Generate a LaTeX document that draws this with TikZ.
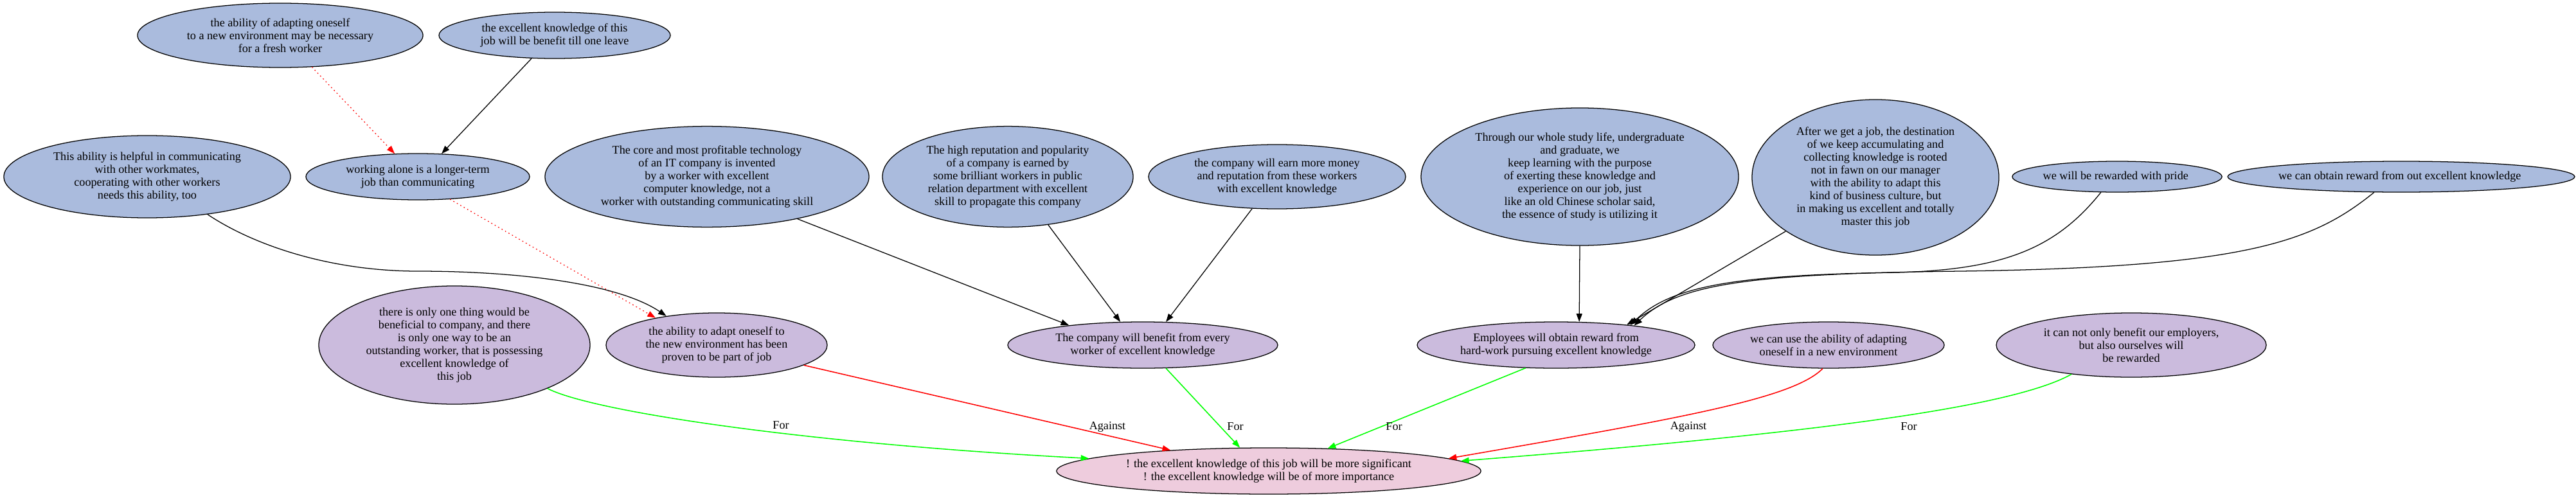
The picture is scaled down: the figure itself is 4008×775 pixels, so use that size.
\documentclass[tikz,border=0pt]{standalone}
\usepackage{fontspec}
\setmainfont{Liberation Serif}
\usepackage{xcolor}
\usepackage{tikz}
\usetikzlibrary{shapes.geometric,arrows.meta}
\definecolor{argblue}{HTML}{AABBDD}
\definecolor{argpurple}{HTML}{CBBBDD}
\definecolor{argpink}{HTML}{EECCDD}
\definecolor{argfor}{HTML}{00FF00}
\definecolor{argagainst}{HTML}{FF0000}

\begin{document}
\begin{tikzpicture}[
    x=0.025cm, y=-0.025cm,
    claim/.style={
        ellipse,
        draw=black,
        line width=0.9pt,
        inner sep=0pt,
        align=center,
        font=\fontsize{12.9}{14.2}\selectfont
    },
    premise/.style={claim, fill=argblue},
    reason/.style={claim, fill=argpurple},
    thesis/.style={claim, fill=argpink},
    support/.style={
        draw=black,
        line width=0.9pt,
        -{Triangle[length=9pt,width=6.5pt]}
    },
    undercut/.style={
        draw=argagainst,
        line width=0.9pt,
        dash pattern=on 1.2pt off 3.2pt,
        -{Triangle[length=9pt,width=6.5pt]}
    },
    pro/.style={
        draw=argfor,
        line width=1.1pt,
        -{Triangle[length=9pt,width=6.5pt]}
    },
    con/.style={
        draw=argagainst,
        line width=1.1pt,
        -{Triangle[length=9pt,width=6.5pt]}
    },
    edgelabel/.style={
        font=\fontsize{12.9}{14.2}\selectfont,
        inner sep=1pt
    }
]

\useasboundingbox (0,0) rectangle (4008,775);

% ============================================================
% Top row: premises
% ============================================================

\node[premise, minimum width=11.1cm, minimum height=2.5cm] (fresh) at (436,55) {
    the ability of adapting oneself\\
    to a new environment may be necessary\\
    for a fresh worker
};

\node[premise, minimum width=9cm, minimum height=1.8cm] (leave) at (863,55) {
    the excellent knowledge of this\\
    job will be benefit till one leave
};

\node[premise, minimum width=11.15cm, minimum height=3.2cm] (helpful) at (229,275) {
    This ability is helpful in communicating\\
    with other workmates,\\
    cooperating with other workers\\
    needs this ability, too
};

\node[premise, minimum width=8.7cm, minimum height=1.8cm] (alone) at (650,275) {
    working alone is a longer-term\\
    job than communicating
};

\node[premise, minimum width=12.6cm, minimum height=3.92cm] (core) at (1100,275) {
    The core and most profitable technology\\
    of an IT company is invented\\
    by a worker with excellent\\
    computer knowledge, not a\\
    worker with outstanding communicating skill
};

\node[premise, minimum width=9.75cm, minimum height=3.92cm] (reputation) at (1568,275) {
    The high reputation and popularity\\
    of a company is earned by\\
    some brilliant workers in public\\
    relation department with excellent\\
    skill to propagate this company
};

\node[premise, minimum width=10cm, minimum height=2.5cm] (money) at (1987,275) {
    the company will earn more money\\
    and reputation from these workers\\
    with excellent knowledge
};

\node[premise, minimum width=12.35cm, minimum height=5.35cm] (study) at (2458,275) {
    Through our whole study life, undergraduate\\
    and graduate, we\\
    keep learning with the purpose\\
    of exerting these knowledge and\\
    experience on our job, just\\
    like an old Chinese scholar said,\\
    the essence of study is utilizing it
};

\node[premise, minimum width=9.6cm, minimum height=6.05cm] (afterjob) at (2918,276) {
    After we get a job, the destination\\
    of we keep accumulating and\\
    collecting knowledge is rooted\\
    not in fawn on our manager\\
    with the ability to adapt this\\
    kind of business culture, but\\
    in making us excellent and totally\\
    master this job
};

\node[premise, minimum width=8.1cm, minimum height=1.2cm] (pride) at (3294,275) {
    we will be rewarded with pride
};

\node[premise, minimum width=13.1cm, minimum height=1.2cm] (obtain) at (3736,275) {
    we can obtain reward from out excellent knowledge
};

% ============================================================
% Middle row: reasons
% ============================================================

\node[reason, minimum width=10.55cm, minimum height=4.6cm] (onething) at (707,537) {
    there is only one thing would be\\
    beneficial to company, and there\\
    is only one way to be an\\
    outstanding worker, that is possessing\\
    excellent knowledge of\\
    this job
};

\node[reason, minimum width=8.6cm, minimum height=2.5cm] (adaptjob) at (1115,537) {
    the ability to adapt oneself to\\
    the new environment has been\\
    proven to be part of job
};

\node[reason, minimum width=10.5cm, minimum height=1.8cm] (benefit) at (1778,537) {
    The company will benefit from every\\
    worker of excellent knowledge
};

\node[reason, minimum width=10.8cm, minimum height=1.8cm] (employees) at (2421,537) {
    Employees will obtain reward from\\
    hard-work pursuing excellent knowledge
};

\node[reason, minimum width=9cm, minimum height=1.8cm] (useability) at (2845,537) {
    we can use the ability of adapting\\
    oneself in a new environment
};

\node[reason, minimum width=10.5cm, minimum height=2.5cm] (notonly) at (3316,537) {
    it can not only benefit our employers,\\
    but also ourselves will\\
    be rewarded
};

% ============================================================
% Bottom: the thesis
% ============================================================

\node[thesis, minimum width=16.5cm, minimum height=1.8cm] (target) at (1974,733) {
    ! the excellent knowledge of this job will be more significant\\
    ! the excellent knowledge will be of more importance
};

% ============================================================
% Premises into reasons
% ============================================================

\draw[undercut] (fresh.-45) -- (alone.135);
\draw[support] (leave.-135) -- (alone.44);
\draw[undercut] (alone.-35) -- (adaptjob.156);
\draw[support] (helpful.-32) .. controls (400,385) and (520,422) .. (650,422)
    .. controls (800,422) and (960,440) .. (adaptjob.150);

\draw[support] (core.-25) -- (benefit.165);
\draw[support] (reputation.-50) -- (benefit.134);
\draw[support] (money.-128) -- (benefit.45);

\draw[support] (study.south) -- (employees.45);
\draw[support] (afterjob.-149) -- (employees.16);
\draw[support] (pride.-136) .. controls (3200,385) and (3120,420) .. (2950,424)
    .. controls (2700,428) and (2600,445) .. (employees.15);
\draw[support] (obtain.-150) .. controls (3600,375) and (3500,416) .. (3050,422)
    .. controls (2720,426) and (2610,442) .. (employees.14);

% ============================================================
% Reasons into the thesis
% ============================================================

\draw[pro] (onething.-25) .. controls (920,640) and (1250,690) .. (target.176)
    node[edgelabel] (forA) at (1215,662) {For};
\draw[con] (adaptjob.-13) -- (target.168)
    node[edgelabel] (againstA) at (1723,664) {Against};
\draw[pro] (benefit.-45) -- (target.141)
    node[edgelabel] (forB) at (1922,664) {For};
\draw[pro] (employees.-143) -- (target.21)
    node[edgelabel] (forC) at (2169,664) {For};
\draw[con] (useability.-104) .. controls (2790,620) and (2620,650) .. (target.4)
    node[edgelabel] (againstB) at (2627,664) {Against};
\draw[pro] (notonly.-154) .. controls (3120,640) and (2750,680) .. (target.3)
    node[edgelabel] (forD) at (2970,664) {For};

\end{tikzpicture}
\end{document}
